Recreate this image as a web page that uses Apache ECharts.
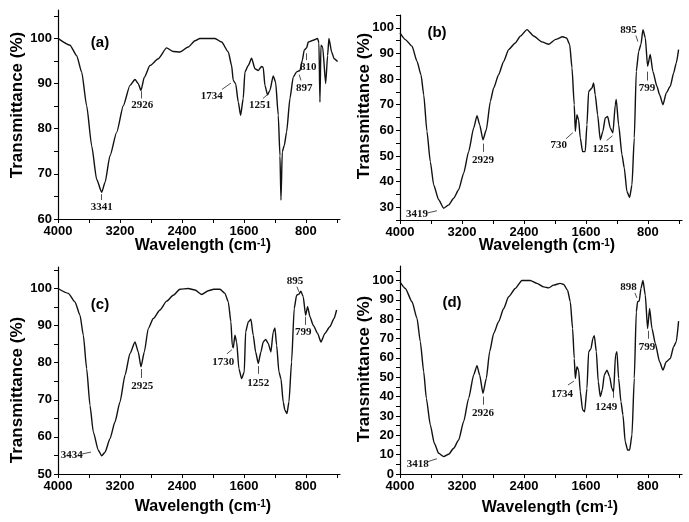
<!DOCTYPE html>
<html>
<head>
<meta charset="utf-8">
<script src="https://cdn.jsdelivr.net/npm/echarts@6/dist/echarts.min.js"></script>
<style>
html, body { margin: 0; padding: 0; background: #fff; }
#chart { width: 689px; height: 522px; }
</style>
</head>
<body>
<div id="chart"></div>
<script>
// spectrum (a)
const waveA = [4000,3845,3759,3694,3630,3565,3501,3436,3393,3329,3243,3157,3071,3006,2964,2929,2886,2813,2706,2598,2512,2426,2319,2232,2168,1974,1888,1802,1759,1738,1707,1673,1643,1609,1587,1544,1501,1458,1415,1372,1351,1329,1295,1265,1222,1191,1157,1135,1122,1105,1079,1049,1006,964,920,877,847,822,791,770,706,649,632,619,606,584,545,520,503,468,435,391];
const transA = [100,98.5,96.2,92.5,85.1,76.2,68.8,65.9,68.1,74,79.2,85.1,89.6,90.9,90,88.5,91.4,94,95.5,97.9,97.1,97,98.1,99.5,100,100,99.2,97,94,90.7,90,85.9,83,86.7,92.6,94,95.6,93.3,92.9,93.8,93.6,89.6,87.5,88.5,91.7,90.3,83,74,64.2,74.9,76.3,79.3,86.7,91.4,92.6,92.9,95.1,97.4,97.9,99.2,99.6,100,99,85.9,98.5,98.1,90,96.2,100,97,95.5,94.9];

// spectrum (b)
const waveB = [4000,3931,3845,3780,3729,3694,3652,3609,3565,3501,3436,3372,3307,3243,3178,3114,3049,3006,2972,2929,2886,2834,2791,2727,2662,2598,2512,2447,2361,2275,2168,2080,1990,1900,1850,1810,1780,1751,1737,1716,1694,1673,1643,1609,1587,1565,1522,1501,1480,1449,1415,1381,1351,1320,1286,1252,1221,1209,1178,1135,1105,1071,1036,1006,976,950,919,890,864,834,804,770,736,684,649,606,563,511,468,434,404];
const transB = [98,95.4,92.8,86.9,81.7,73.9,59.6,47.8,38.7,32.9,29.6,30.9,33.5,36.8,43.3,51.7,60.9,65.7,62.2,56.3,60.2,71.3,76.5,81.7,86.9,91.5,94.1,96.7,99.3,96.8,94.5,93.6,95.5,96.5,96,93.5,84.4,70,59.6,66.1,64,57,51.7,51.7,62.2,75.2,76.5,78.5,73.9,66.1,56.3,59.6,64.8,65.4,60.9,59,70,72,62.2,50.5,45.3,36.1,33.8,38.7,57,83,90.8,93.5,99.3,96.1,85,89.6,83,77.2,73.9,70,74.6,77.2,82.4,86.3,91.5];

// spectrum (c)
const waveC = [4000,3867,3781,3716,3673,3630,3587,3544,3480,3436,3393,3329,3265,3200,3135,3071,3006,2964,2929,2886,2835,2770,2684,2598,2512,2426,2319,2232,2146,2060,1990,1910,1845,1802,1768,1751,1738,1716,1694,1665,1630,1596,1578,1544,1510,1480,1449,1415,1381,1351,1320,1286,1252,1222,1200,1178,1148,1122,1093,1071,1045,1019,985,951,920,890,865,835,804,778,748,706,649,606,555,492,437,404];
const transC = [100,98.7,96.4,92.8,87.4,78.4,68.5,61.3,56.4,54.9,55.9,59.5,64,69.4,76.6,82.5,85.6,82.9,78.9,82.9,89.2,91.9,94.2,96.6,98.2,99.8,100,99.6,98.4,99.4,99.8,99.8,98.7,96.4,91,84.7,84,87.4,85.6,78.4,75.7,77.5,88.3,91,91.7,87.4,82.9,79.8,82.9,85.6,86.3,85.2,82.9,88.3,89.4,84.7,77.5,75.7,69.4,67.2,66.3,69.4,80.2,94.6,98.2,98.5,99.3,97.8,92.8,95.1,92.4,90.1,87.9,85.6,87.9,89.7,91.9,94.2];

// spectrum (d)
const waveD = [4000,3931,3845,3780,3738,3694,3660,3609,3557,3501,3436,3372,3307,3243,3178,3114,3049,3006,2972,2929,2886,2843,2791,2727,2662,2598,2512,2426,2319,2232,2146,2081,2017,1932,1888,1837,1802,1772,1751,1737,1716,1694,1673,1643,1617,1587,1565,1536,1510,1492,1466,1441,1415,1389,1363,1329,1294,1265,1243,1218,1200,1178,1148,1122,1093,1062,1036,1006,976,950,933,912,890,864,834,804,778,748,705,649,606,563,511,468,434,404];
const transD = [99.3,95.9,89,80.4,68.4,52.9,39.1,25.4,15.9,10.7,9,10.2,13.3,17.6,27.1,39.1,51.2,56,51.2,41.7,49.4,63.2,72.6,78.7,85.5,91.6,95.9,100,100,98.5,96.7,96.2,97.6,98.5,98,95,89,75.2,59.7,49.4,55.4,53.7,42.5,33.1,32.2,44.2,63.2,64.6,70.1,71.5,63.2,47.7,40,43.4,51.2,53.7,50.3,44.2,42.5,61.5,63.2,49.4,37.4,30.5,16.7,12.4,12.4,20.2,49.4,83.8,89,89.4,95.9,100,92.5,75.2,85.5,75.2,67.5,58,53.7,58,59.7,65.8,68.4,79];

// peak labels: text, wavenumber, transmittance of the label
const peaksA = [['3341',3436,62.6],['2926',2912,85.2],['1734',2017,87.2],['1251',1394,85.2],['897',822,88.9],['810',770,93.7]];
const peaksB = [['3419',3781,27.3],['2929',2929,48.5],['730',1952,54.4],['1251',1372,52.8],['895',1050,98.9],['799',813,76.5]];
const peaksC = [['3434',3823,55.2],['2925',2912,73.7],['1730',1867,80.2],['1252',1415,74.6],['895',942,102],['799',835,88.3]];
const peaksD = [['3418',3772,5],['2926',2929,31.3],['1734',1910,41.4],['1249',1338,34.4],['898',1049,96.7],['799',813,65.8]];
// pointer arrows: from (w, t) to (w, t)
const arrowsA = [[3436,64.2,3436,65.5],[2929,86.7,2929,88.3],[1884,88.7,1768,90.1],[1355,86.7,1278,87.8],[864,90.7,887,92],[791,95.2,791,96.7]];
const arrowsB = [[3639,27.8,3523,28.6],[2929,51.6,2929,54.8],[1858,56.7,1768,59.1],[1333,56,1256,57.9],[955,97,929,94.6],[804,79.4,804,82.9]];
const arrowsC = [[3690,55.4,3574,55.9],[2929,75.9,2929,78.3],[1819,82.4,1755,83.5],[1415,77,1415,79.1],[916,100.5,890,99.1],[804,90.2,804,92.4]];
const arrowsD = [[3639,6.4,3523,7.9],[2929,35.8,2929,40],[1832,46,1755,48],[1252,39.4,1252,42.5],[968,93.6,942,91],[800,69.9,800,74]];

const xTicks = [4000,3600,3200,2800,2400,2000,1600,1200,800,400];
const xLabels = [4000,3200,2400,1600,800];
const yTicksA = [60,65,70,75,80,85,90,95,100,105];
const yLabelsA = [60,70,80,90,100];
const yTicksB = [25,30,35,40,45,50,55,60,65,70,75,80,85,90,95,100,105];
const yLabelsB = [30,40,50,60,70,80,90,100];
const yTicksC = [50,55,60,65,70,75,80,85,90,95,100,105];
const yLabelsC = [50,60,70,80,90,100];
const yTicksD = [0,5,10,15,20,25,30,35,40,45,50,55,60,65,70,75,80,85,90,95,100,105];
const yLabelsD = [0,10,20,30,40,50,60,70,80,90,100];

const panels = [
  { wave: waveA, trans: transA, peaks: peaksA, arrows: arrowsA, min: 60, max: 106.3, ticks: yTicksA, labels: yLabelsA,
    grid: { left: 58, top: 10, width: 282, height: 209 } },
  { wave: waveB, trans: transB, peaks: peaksB, arrows: arrowsB, min: 25, max: 105, ticks: yTicksB, labels: yLabelsB,
    grid: { left: 400, top: 15, width: 282, height: 205 } },
  { wave: waveC, trans: transC, peaks: peaksC, arrows: arrowsC, min: 50, max: 105.8, ticks: yTicksC, labels: yLabelsC,
    grid: { left: 58, top: 267, width: 282, height: 207 } },
  { wave: waveD, trans: transD, peaks: peaksD, arrows: arrowsD, min: 0, max: 107.5, ticks: yTicksD, labels: yLabelsD,
    grid: { left: 400, top: 266, width: 282, height: 208 } }
];

const sans = 'Liberation Sans, Arial, sans-serif';
const serif = 'Liberation Serif, Times New Roman, serif';
const tickFont = { color: '#000', fontSize: 13, fontWeight: 'bold', fontFamily: sans, formatter: v => String(v) };

const option = {
  animation: false,
  backgroundColor: '#fff',
  grid: panels.map(p => Object.assign({ containLabel: false }, p.grid)),
  xAxis: panels.map((p, i) => ({
    gridIndex: i,
    type: 'value',
    inverse: true,
    min: 360,
    max: 4000,
    axisLine: { show: true, onZero: false, lineStyle: { color: '#000', width: 1.2 } },
    axisTick: { show: true, length: 4, customValues: xTicks, lineStyle: { color: '#000', width: 1 } },
    axisLabel: Object.assign({ customValues: xLabels, margin: 6 }, tickFont),
    splitLine: { show: false }
  })),
  yAxis: panels.map((p, i) => ({
    gridIndex: i,
    type: 'value',
    min: p.min,
    max: p.max,
    axisLine: { show: true, onZero: false, lineStyle: { color: '#000', width: 1.2 } },
    axisTick: { show: true, length: 4, customValues: p.ticks, lineStyle: { color: '#000', width: 1 } },
    axisLabel: Object.assign({ customValues: p.labels, margin: 6 }, tickFont),
    splitLine: { show: false }
  })),
  series: panels.map((p, i) => ({
    type: 'line',
    xAxisIndex: i,
    yAxisIndex: i,
    data: p.wave.map((w, k) => [w, p.trans[k]]),
    showSymbol: false,
    symbol: 'none',
    smooth: 0.2,
    smoothMonotone: 'x',
    lineStyle: { color: '#111', width: 1.4 },
    markPoint: {
      silent: true,
      symbol: 'rect',
      symbolSize: 1,
      itemStyle: { color: 'rgba(0,0,0,0)' },
      label: {
        show: true, position: 'inside', formatter: q => q.name,
        color: '#111', fontSize: 11, fontWeight: 'bold', fontFamily: serif
      },
      data: p.peaks.map(a => ({ name: a[0], coord: [a[1], a[2]] }))
    },
    markLine: {
      silent: true,
      symbol: ['none', 'arrow'],
      symbolSize: [0, 5],
      lineStyle: { color: '#222', width: 0.8, type: 'solid' },
      label: { show: false },
      data: p.arrows.map(a => [{ coord: [a[0], a[1]] }, { coord: [a[2], a[3]] }])
    }
  })),
  graphic: [
    ...[[100, 43, '(a)'], [437, 33, '(b)'], [100, 305, '(c)'], [452, 303, '(d)']].map(t => ({
      type: 'text', x: t[0], y: t[1],
      style: { text: t[2], fill: '#000', font: 'bold 15px ' + sans, textAlign: 'center', textVerticalAlign: 'middle' }
    })),
    ...[[17, 105], [364, 106], [17, 390], [364, 369]].map(t => ({
      type: 'text', x: t[0], y: t[1], rotation: Math.PI / 2,
      style: { text: 'Transmittance (%)', fill: '#000', font: 'bold 17px ' + sans, textAlign: 'center', textVerticalAlign: 'middle' }
    })),
    ...[[203, 246], [547, 246], [203, 507], [550, 508]].map(t => ({
      type: 'text', x: t[0], y: t[1],
      style: {
        text: 'Wavelength (cm{s|-1})', fill: '#000', font: 'bold 16px ' + sans,
        textAlign: 'center', textVerticalAlign: 'middle',
        rich: { s: { fontSize: 10, fontWeight: 'bold', fontFamily: sans, verticalAlign: 'top', fill: '#000' } }
      }
    }))
  ]
};

const chart = echarts.init(document.getElementById('chart'));
chart.setOption(option);
</script>
</body>
</html>
